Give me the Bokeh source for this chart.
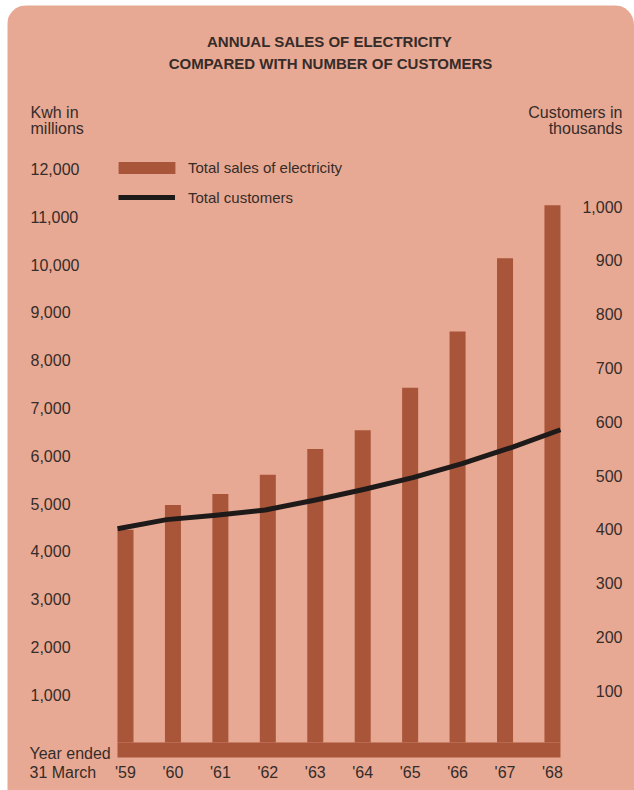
from bokeh.plotting import figure
from bokeh.models import (Range1d, LinearAxis, FixedTicker, NumeralTickFormatter,
                          Legend, LegendItem, ColumnDataSource)
from bokeh.core.properties import value
from bokeh.embed import file_html
from bokeh.resources import INLINE

# ---- data ----
years = ["'59", "'60", "'61", "'62", "'63", "'64", "'65", "'66", "'67", "'68"]
sales_kwh_millions = [4450, 4970, 5200, 5600, 6140, 6530, 7420, 8600, 10130, 11240]
customers_thousands = [401, 418, 426, 436, 454, 474, 496, 522, 552, 585]
kwh_ticks = [1000, 2000, 3000, 4000, 5000, 6000, 7000, 8000, 9000, 10000, 11000, 12000]
customer_ticks = [100, 200, 300, 400, 500, 600, 700, 800, 900, 1000]

# ---- style ----
OX, OY = 7, 5            # card offset on the page
W, H = 627, 785          # card size
BG = "#E7A993"
BAR = "#A9553A"
LINE = "#1f1a1a"
INK = "#362c2a"
FONT = "Liberation Sans"

# page-pixel geometry (the frame fills the whole card)
X0_PX, DX_PX = 125.0, 47.44          # centre of first bar, bar spacing
ZL_PX, SL_PX = 742.0, 47.8 / 1000    # kWh zero line, px per kWh-million
ZR_PX, SR_PX = 744.0, 53.8 / 100     # customers zero line, px per thousand
BASE_PX = 757.0                      # bottom of the base band / year axis

def xd(px):
    return (px - X0_PX) / DX_PX

def yd(py):
    return (ZL_PX - py) / SL_PX

n = len(years)
x = list(range(n))
bar_w = 16 / DX_PX
# the customers curve runs from the outer edge of the first bar to the outer edge of the last
line_x = [i * (n - 1 + bar_w) / (n - 1) - bar_w / 2 for i in x]
src = ColumnDataSource(dict(x=x, lx=line_x, sales=sales_kwh_millions,
                            customers=customers_thousands))

p = figure(width=W, height=H, output_backend="svg", toolbar_location=None,
           x_range=Range1d(xd(OX), xd(OX + W)), y_range=Range1d(yd(OY + H), yd(OY)),
           y_axis_location=None, min_border=0,
           background_fill_color=BG, border_fill_color=BG, outline_line_color=None)
p.extra_y_ranges = {"cust": Range1d((ZR_PX - (OY + H)) / SR_PX, (ZR_PX - OY) / SR_PX)}
p.grid.visible = False
p.styles = {"margin-left": f"{OX}px", "margin-top": f"{OY}px",
            "border-radius": "20px 20px 0 0", "overflow": "hidden"}

def style_axis(ax, standoff):
    ax.axis_line_color = None
    ax.major_tick_line_color = None
    ax.minor_tick_line_color = None
    ax.major_tick_out = 0
    ax.major_tick_in = 0
    ax.major_label_standoff = standoff
    ax.major_label_text_font = FONT
    ax.major_label_text_font_size = "16px"
    ax.major_label_text_color = INK

# year axis
xa = p.xaxis[0]
xa.ticker = FixedTicker(ticks=x)
xa.major_label_overrides = {i: yr for i, yr in zip(x, years)}
xa.fixed_location = yd(BASE_PX)
style_axis(xa, 6)

# kWh axis: labels left-aligned at the left edge of the card
kwh_axis = LinearAxis(ticker=FixedTicker(ticks=kwh_ticks),
                      formatter=NumeralTickFormatter(format="0,0"), fixed_location=xd(30))
style_axis(kwh_axis, 0)
p.add_layout(kwh_axis, "right")

# customers axis: labels right-aligned at the right edge of the card
cust_axis = LinearAxis(y_range_name="cust", ticker=FixedTicker(ticks=customer_ticks),
                       formatter=NumeralTickFormatter(format="0,0"), fixed_location=xd(622))
style_axis(cust_axis, 0)
p.add_layout(cust_axis, "left")

# ---- marks ----
bars = p.vbar(x="x", top="sales", bottom=0, width=bar_w, source=src,
              fill_color=BAR, line_color=None)
p.quad(left=[x[0] - bar_w / 2], right=[x[-1] + bar_w / 2],
       bottom=[yd(BASE_PX)], top=[0], fill_color=BAR, line_color=None)
line = p.line(x="lx", y="customers", source=src, y_range_name="cust",
              line_width=5, line_color=LINE, line_join="round")

# ---- legends ----
leg_common = dict(margin=0, padding=0, background_fill_alpha=0, border_line_color=None,
                  label_text_font=FONT, label_text_font_size="15px", label_text_color=INK,
                  label_height=10)
leg1 = Legend(items=[LegendItem(label="Total sales of electricity", renderers=[bars])],
              location=(110.9 - OX, OY + H - 175.5), glyph_width=71, glyph_height=15,
              label_standoff=6, **leg_common)
leg2 = Legend(items=[LegendItem(label="Total customers", renderers=[line])],
              location=(118 - OX, OY + H - 205.5), glyph_width=57, glyph_height=12,
              label_standoff=13, **leg_common)
p.add_layout(leg1)
p.add_layout(leg2)

# ---- texts ----
def txt(text, px, py, align="left", size="16px", bold=False):
    p.text(x=[xd(px)], y=[yd(py)], text=[text], text_align=align, text_baseline="middle",
           text_font=value(FONT), text_font_size=value(size), text_color=INK,
           text_font_style="bold" if bold else "normal")

txt("ANNUAL SALES OF ELECTRICITY", 329, 41, align="center", size="15px", bold=True)
txt("COMPARED WITH NUMBER OF CUSTOMERS", 330, 62.5, align="center", size="15px", bold=True)
txt("Kwh in", 30, 112)
txt("millions", 30, 128)
txt("Customers in", 622, 112, align="right")
txt("thousands", 622, 128, align="right")
txt("Year ended", 29, 753)
txt("31 March", 29, 772)

open("out.html", "w").write(file_html(p, INLINE))
